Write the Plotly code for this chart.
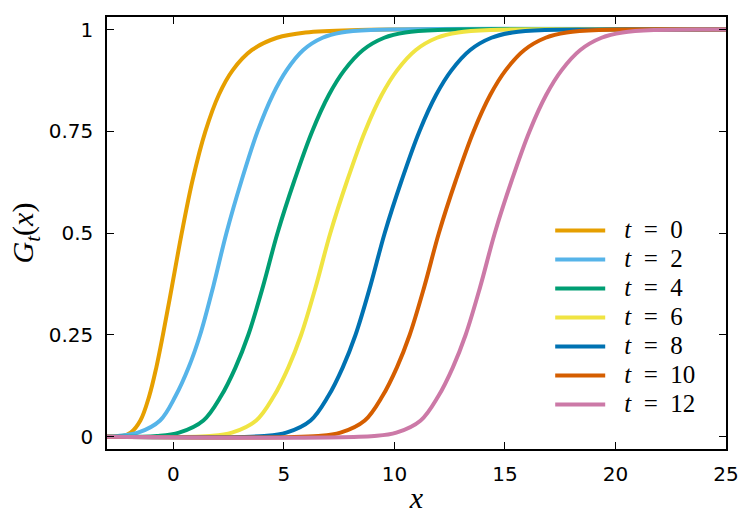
import plotly.graph_objects as go

LEVELS = [0.002, 0.01, 0.04, 0.1, 0.17, 0.25, 0.37, 0.5, 0.63, 0.75, 0.84, 0.9, 0.95, 0.98, 0.993, 0.999]

X_RANGE = [-3, 25]

t_labels = ["0", "2", "4", "6", "8", "10", "12"]

x_t0  = [-2.30, -1.93, -1.49, -1.09, -0.77, -0.47, -0.06, 0.38, 0.87, 1.45, 2.06, 2.68, 3.56, 4.69, 5.98, 8.36]
x_t2  = [-2.50, -1.60, -0.60, 0.10, 0.69, 1.21, 1.81, 2.40, 3.09, 3.81, 4.50, 5.12, 5.88, 6.75, 7.60, 8.93]
x_t4  = [-0.74, 0.26, 1.36, 2.16, 2.81, 3.39, 4.06, 4.71, 5.48, 6.28, 7.04, 7.73, 8.58, 9.54, 10.49, 11.97]
x_t6  = [1.65, 2.65, 3.75, 4.55, 5.20, 5.78, 6.45, 7.10, 7.87, 8.67, 9.43, 10.12, 10.97, 11.93, 12.88, 14.36]
x_t8  = [4.11, 5.11, 6.21, 7.01, 7.66, 8.24, 8.91, 9.56, 10.33, 11.13, 11.89, 12.58, 13.43, 14.39, 15.34, 16.82]
x_t10 = [6.56, 7.56, 8.66, 9.46, 10.11, 10.69, 11.36, 12.01, 12.78, 13.58, 14.34, 15.03, 15.88, 16.84, 17.79, 19.27]
x_t12 = [9.09, 10.09, 11.19, 11.99, 12.64, 13.22, 13.89, 14.54, 15.31, 16.11, 16.87, 17.56, 18.41, 19.37, 20.32, 21.80]

series = [x_t0, x_t2, x_t4, x_t6, x_t8, x_t10, x_t12]
colors = ["#E69F00", "#56B4E9", "#009E73", "#F0E442", "#0072B2", "#D55E00", "#CC79A7"]

SERIF = "Liberation Serif, DejaVu Serif, serif"

fig = go.Figure()
for lab, xs, c in zip(t_labels, series, colors):
    xx = [X_RANGE[0]] + xs + [X_RANGE[1]]
    yy = [0.0] + LEVELS + [1.0]
    fig.add_trace(go.Scatter(
        x=xx, y=yy, mode="lines",
        line=dict(color=c, width=4, shape="spline", smoothing=1.0),
        name='\u200b\u2002\u2009<span style="font-size:25px"><i>t</i>\u2002=\u2002' + lab + "</span>",
    ))

axis_common = dict(
    showgrid=False, zeroline=False, showline=True, linecolor="black", linewidth=1.5,
    mirror="ticks", ticks="inside", ticklen=7, tickwidth=1.3, tickcolor="black",
    tickfont=dict(family="DejaVu Sans", size=20, color="black"),
)

fig.update_xaxes(range=X_RANGE, tickvals=[0, 5, 10, 15, 20, 25],
                 ticktext=["0", "5", "10", "15", "20", "25"],
                 title=dict(text="<i>x</i>", font=dict(family=SERIF, size=30, color="black"), standoff=2),
                 ticklabelstandoff=6,
                 **axis_common)
fig.update_yaxes(range=[-0.03, 1.031], tickvals=[0, 0.25, 0.5, 0.75, 1],
                 ticktext=["0", "0.25", "0.5", "0.75", "1"],
                 title=dict(text="<i>G</i><sub><i>t</i></sub>(<i>x</i>)", font=dict(family=SERIF, size=30, color="black"), standoff=6),
                 ticklabelstandoff=8,
                 **axis_common)

fig.update_layout(
    width=750, height=524,
    margin=dict(l=107, r=24, t=17, b=75),
    plot_bgcolor="white", paper_bgcolor="white",
    legend=dict(x=0.716, y=0.551, xanchor="left", yanchor="top",
                font=dict(family=SERIF, size=20, color="black"),
                bgcolor="rgba(255,255,255,0)", itemwidth=50),
    showlegend=True,
)

fig.write_html("out.html")
